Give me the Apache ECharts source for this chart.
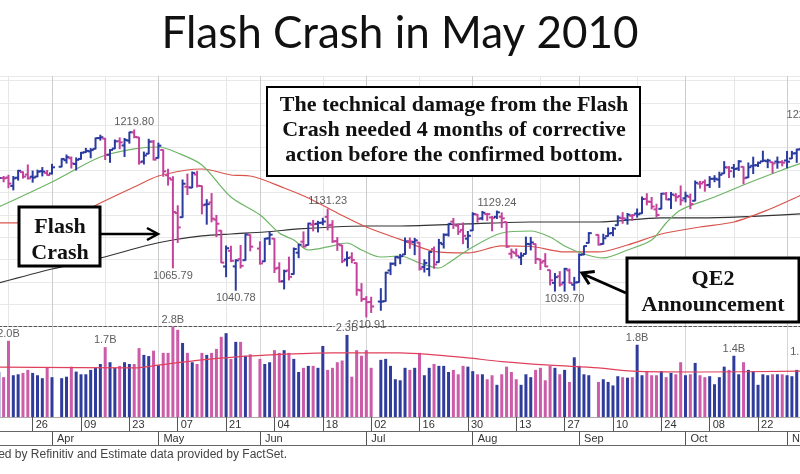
<!DOCTYPE html>
<html><head><meta charset="utf-8">
<script src="https://cdn.jsdelivr.net/npm/echarts@6/dist/echarts.min.js"></script>
<style>html,body{margin:0;padding:0;background:#fff}#c{width:800px;height:474px}</style>
</head><body><div id="c"></div>
<script>
// ---------- DATA ----------
const prevClose = 1159.46; // close before the first visible bar
// [date, open, high, low, close]
const ohlc = [
['2010-03-17',1159.9,1169.8,1159.9,1166.21],['2010-03-18',1166.1,1167.8,1161.9,1165.83],['2010-03-19',1166.7,1169.2,1155.3,1159.90],
['2010-03-22',1157.3,1167.8,1152.9,1165.81],['2010-03-23',1166.5,1174.7,1163.8,1174.17],['2010-03-24',1172.7,1173.0,1166.0,1167.72],
['2010-03-25',1170.0,1180.7,1165.1,1165.73],['2010-03-26',1167.6,1173.9,1161.5,1166.59],['2010-03-29',1167.7,1174.9,1167.7,1173.22],
['2010-03-30',1173.8,1177.8,1168.5,1173.27],['2010-03-31',1171.8,1174.6,1169.3,1169.43],
['2010-04-01',1171.2,1181.4,1170.7,1178.10],['2010-04-05',1178.7,1187.7,1178.7,1187.44],['2010-04-06',1186.0,1191.8,1182.8,1189.44],
['2010-04-07',1188.2,1189.6,1177.3,1182.45],['2010-04-08',1181.8,1188.6,1175.1,1186.44],['2010-04-09',1187.5,1194.7,1187.2,1194.37],
['2010-04-12',1194.9,1199.2,1194.7,1196.48],['2010-04-13',1195.9,1199.0,1188.8,1197.30],['2010-04-14',1198.7,1210.7,1198.7,1210.65],
['2010-04-15',1210.8,1213.9,1208.5,1211.67],['2010-04-16',1210.2,1210.2,1186.8,1192.13],['2010-04-19',1192.1,1197.9,1183.7,1197.52],
['2010-04-20',1199.0,1208.6,1199.0,1207.17],['2010-04-21',1207.2,1211.0,1198.9,1205.94],['2010-04-22',1202.5,1210.3,1190.2,1208.67],
['2010-04-23',1207.9,1217.3,1205.1,1217.28],['2010-04-26',1217.1,1219.8,1211.1,1212.05],['2010-04-27',1211.5,1211.5,1181.6,1183.71],
['2010-04-28',1184.6,1195.1,1181.8,1191.36],['2010-04-29',1193.3,1209.4,1193.3,1206.78],['2010-04-30',1206.8,1208.0,1186.3,1186.69],
['2010-05-03',1188.6,1205.1,1188.6,1202.26],['2010-05-04',1197.5,1197.5,1168.1,1173.60],['2010-05-05',1169.2,1175.9,1158.2,1165.87],
['2010-05-06',1164.4,1167.6,1065.79,1128.15],['2010-05-07',1127.0,1135.1,1094.2,1110.88],['2010-05-10',1122.3,1163.9,1122.3,1159.73],
['2010-05-11',1156.4,1170.5,1147.7,1155.79],['2010-05-12',1155.4,1172.9,1155.4,1171.67],['2010-05-13',1170.0,1173.6,1156.1,1157.44],
['2010-05-14',1157.2,1157.2,1126.1,1135.68],['2010-05-17',1136.5,1141.9,1114.6,1136.94],['2010-05-18',1138.8,1148.7,1117.2,1120.80],
['2010-05-19',1119.6,1124.3,1100.7,1115.05],['2010-05-20',1107.3,1107.3,1071.6,1071.59],['2010-05-21',1067.3,1090.2,1055.9,1087.69],
['2010-05-24',1084.8,1089.9,1072.7,1073.65],['2010-05-25',1067.4,1074.8,1040.78,1074.03],['2010-05-26',1075.5,1090.8,1065.6,1067.95],
['2010-05-27',1074.3,1103.5,1074.3,1103.06],['2010-05-28',1102.6,1102.6,1084.8,1089.41],
['2010-06-01',1087.3,1094.8,1069.9,1070.71],['2010-06-02',1073.0,1098.6,1072.9,1098.38],['2010-06-03',1098.8,1105.7,1091.8,1102.83],
['2010-06-04',1098.4,1098.4,1060.5,1064.88],['2010-06-07',1065.8,1071.4,1049.9,1050.47],['2010-06-08',1050.8,1063.2,1042.2,1062.00],
['2010-06-09',1062.8,1077.7,1052.3,1055.69],['2010-06-10',1058.8,1087.9,1058.8,1086.84],['2010-06-11',1082.7,1092.1,1077.1,1091.60],
['2010-06-14',1095.0,1105.9,1089.0,1089.63],['2010-06-15',1091.2,1115.6,1091.2,1115.23],['2010-06-16',1114.0,1118.7,1107.1,1114.61],
['2010-06-17',1115.0,1117.7,1105.9,1116.04],['2010-06-18',1116.2,1121.1,1113.9,1117.51],['2010-06-21',1122.8,1131.23,1108.2,1113.20],
['2010-06-22',1113.9,1118.5,1094.2,1095.31],['2010-06-23',1095.6,1099.6,1085.3,1092.04],['2010-06-24',1090.9,1090.9,1071.6,1073.69],
['2010-06-25',1075.1,1083.6,1067.9,1076.76],['2010-06-28',1077.5,1082.6,1071.5,1074.57],['2010-06-29',1071.1,1071.1,1035.2,1041.24],
['2010-06-30',1040.6,1048.1,1028.3,1030.71],
['2010-07-01',1031.1,1033.6,1010.91,1027.37],['2010-07-02',1027.6,1032.9,1015.9,1022.58],['2010-07-06',1028.1,1042.5,1018.4,1028.06],
['2010-07-07',1028.5,1060.9,1028.5,1060.27],['2010-07-08',1062.9,1071.3,1058.2,1070.25],['2010-07-09',1070.5,1078.2,1068.1,1077.96],
['2010-07-12',1077.2,1080.8,1070.4,1078.75],['2010-07-13',1080.7,1099.1,1080.7,1095.34],['2010-07-14',1095.6,1099.1,1087.7,1095.17],
['2010-07-15',1094.5,1098.7,1080.5,1096.48],['2010-07-16',1093.9,1093.9,1063.3,1064.88],['2010-07-19',1066.9,1074.7,1061.1,1071.25],
['2010-07-20',1064.5,1083.9,1056.9,1083.48],['2010-07-21',1086.7,1089.0,1065.3,1069.59],['2010-07-22',1072.1,1097.5,1072.1,1093.67],
['2010-07-23',1092.2,1103.7,1087.9,1102.66],['2010-07-26',1102.9,1115.0,1101.3,1115.01],['2010-07-27',1117.4,1121.0,1109.8,1113.84],
['2010-07-28',1112.8,1114.7,1103.1,1106.13],['2010-07-29',1108.1,1115.9,1092.8,1101.53],['2010-07-30',1098.4,1106.4,1088.0,1101.60],
['2010-08-02',1107.5,1127.3,1107.5,1125.86],['2010-08-03',1125.3,1125.4,1116.8,1120.46],['2010-08-04',1121.1,1128.8,1119.5,1127.24],
['2010-08-05',1125.8,1126.6,1118.9,1125.81],['2010-08-06',1122.1,1123.1,1107.2,1121.64],['2010-08-09',1122.8,1129.24,1120.9,1127.79],
['2010-08-10',1122.9,1127.2,1111.0,1121.06],['2010-08-11',1116.9,1116.9,1088.6,1089.47],['2010-08-12',1081.5,1086.7,1076.7,1083.61],
['2010-08-13',1082.2,1086.8,1079.0,1079.25],['2010-08-16',1077.5,1082.6,1069.5,1079.38],['2010-08-17',1081.2,1100.1,1081.2,1092.54],
['2010-08-18',1092.1,1099.8,1085.8,1094.16],['2010-08-19',1092.4,1092.4,1070.7,1075.63],['2010-08-20',1075.2,1075.2,1063.9,1071.69],
['2010-08-23',1073.4,1081.6,1067.1,1067.36],['2010-08-24',1063.2,1063.2,1046.7,1051.87],['2010-08-25',1049.0,1059.4,1039.8,1055.33],
['2010-08-26',1056.3,1061.5,1045.4,1047.22],['2010-08-27',1049.3,1065.2,1039.70,1064.59],['2010-08-30',1062.9,1064.4,1048.8,1048.92],
['2010-08-31',1046.9,1055.1,1040.9,1049.33],
['2010-09-01',1049.7,1081.3,1049.7,1080.29],['2010-09-02',1080.7,1090.1,1080.4,1090.10],['2010-09-03',1093.6,1105.1,1093.6,1104.51],
['2010-09-07',1102.6,1102.6,1091.2,1091.84],['2010-09-08',1092.4,1103.3,1092.4,1098.87],['2010-09-09',1101.2,1110.3,1101.2,1104.18],
['2010-09-10',1104.6,1110.9,1101.7,1109.55],['2010-09-13',1113.4,1123.9,1113.4,1121.90],['2010-09-14',1121.2,1127.4,1115.6,1121.10],
['2010-09-15',1119.4,1126.5,1114.6,1125.07],['2010-09-16',1123.9,1125.4,1118.9,1124.66],['2010-09-17',1126.4,1131.5,1122.4,1125.59],
['2010-09-20',1126.6,1144.9,1126.6,1142.71],['2010-09-21',1142.8,1148.6,1136.2,1139.78],['2010-09-22',1139.5,1144.4,1131.6,1134.28],
['2010-09-23',1131.1,1136.8,1122.8,1124.83],['2010-09-24',1131.7,1148.9,1131.7,1148.67],['2010-09-27',1148.6,1149.9,1142.0,1142.16],
['2010-09-28',1142.3,1150.0,1132.1,1147.70],['2010-09-29',1146.8,1148.6,1140.3,1144.73],['2010-09-30',1146.0,1157.2,1136.1,1141.20],
['2010-10-01',1143.5,1150.3,1139.4,1146.24],['2010-10-04',1145.0,1148.2,1131.9,1137.03],['2010-10-05',1140.7,1162.8,1140.7,1160.75],
['2010-10-06',1159.8,1162.3,1154.9,1159.97],['2010-10-07',1161.6,1163.9,1151.4,1158.06],['2010-10-08',1158.4,1167.7,1155.6,1165.15],
['2010-10-11',1165.3,1168.7,1162.0,1165.32],['2010-10-12',1164.3,1172.6,1155.7,1169.77],['2010-10-13',1171.3,1184.4,1171.3,1178.10],
['2010-10-14',1177.8,1178.9,1166.7,1173.81],['2010-10-15',1177.5,1181.2,1167.1,1176.19],['2010-10-18',1176.8,1185.5,1174.6,1184.71],
['2010-10-19',1178.6,1178.6,1159.7,1165.90],['2010-10-20',1166.7,1182.9,1166.7,1178.17],['2010-10-21',1179.8,1189.4,1171.2,1180.26],
['2010-10-22',1180.5,1183.9,1179.0,1183.08],['2010-10-25',1184.7,1196.1,1184.7,1185.62],['2010-10-26',1184.9,1187.1,1177.7,1185.64],
['2010-10-27',1183.8,1183.8,1171.7,1182.45],['2010-10-28',1184.5,1189.5,1177.1,1183.78],['2010-10-29',1183.9,1185.5,1179.7,1183.26],
['2010-11-01',1185.7,1195.8,1177.7,1184.38],['2010-11-02',1187.9,1195.9,1187.9,1193.57],['2010-11-03',1193.8,1198.3,1183.6,1197.96],
['2010-11-04',1198.3,1221.3,1198.3,1221.06],['2010-11-05',1221.2,1227.08,1220.3,1225.85]
];
// daily volume (billions of shares), same order as ohlc
const volume = [
0.95,0.84,2.0,0.88,0.90,0.93,1.0,0.93,0.88,0.82,1.05,
0.84,0.82,0.85,1.08,0.96,0.90,0.90,1.0,1.05,1.15,1.72,1.2,1.05,1.1,1.2,1.15,1.15,1.68,1.43,1.39,1.58,
1.12,1.5,1.5,2.8,2.6,1.9,1.5,1.2,1.15,1.5,1.43,1.5,1.65,2.2,2.4,1.3,1.95,1.95,1.4,1.45,
1.3,1.15,1.2,1.6,1.5,1.6,1.5,1.3,0.95,1.05,1.1,1.1,1.05,1.77,1.0,1.05,1.2,1.25,2.3,0.85,1.6,1.4,
1.6,1.05,1.27,1.3,1.1,0.8,0.78,1.05,1.0,1.05,1.5,0.88,1.05,1.15,1.1,1.1,0.95,1.0,0.9,1.1,1.08,
0.97,0.9,0.9,0.8,0.88,0.7,0.9,1.08,0.95,0.8,0.7,0.9,0.84,1.0,1.05,0.78,1.1,1.05,0.9,1.0,0.75,1.35,
1.1,0.9,0.88,0.75,0.8,0.75,0.69,0.86,0.84,0.83,0.84,1.82,0.88,0.97,0.88,0.88,0.97,0.84,0.93,0.9,1.2,
0.88,0.9,1.18,0.88,0.84,0.86,0.71,0.84,1.08,1.0,1.4,0.9,1.2,1.0,0.97,0.7,0.9,0.88,0.9,0.9,0.9,
0.88,0.86,1.0,1.3,1.0
];
// moving averages [date, value]
const ma20 = [['2010-03-17',1133.8],['2010-04-01',1161.7],['2010-04-15',1189.6],['2010-04-26',1198.6],['2010-05-03',1200.8],
['2010-05-07',1194.1],['2010-05-14',1180.7],['2010-05-24',1144.9],['2010-06-01',1125.0],['2010-06-07',1104.7],['2010-06-10',1096.9],
['2010-06-15',1085.7],['2010-06-21',1089.1],['2010-06-25',1093.5],['2010-06-30',1085.7],['2010-07-06',1077.9],['2010-07-12',1079.0],
['2010-07-16',1071.2],['2010-07-22',1065.6],['2010-07-26',1071.2],['2010-07-30',1085.7],['2010-08-10',1104.7],['2010-08-18',1106.9],
['2010-08-24',1100.2],['2010-08-27',1090.2],['2010-09-02',1081.2],['2010-09-08',1076.8],['2010-09-15',1085.7],['2010-09-22',1096.9],
['2010-09-27',1115.9],['2010-09-30',1130.4],['2010-10-11',1144.9],['2010-10-20',1160.6],['2010-10-29',1175.1],['2010-11-04',1182.9],['2010-11-05',1185.0]];
const ma50 = [['2010-03-17',1115.9],['2010-04-01',1117.0],['2010-04-09',1127.1],['2010-04-15',1138.2],['2010-04-26',1156.1],
['2010-05-03',1168.4],['2010-05-11',1175.1],['2010-05-14',1176.2],['2010-05-24',1169.5],['2010-05-28',1168.4],['2010-06-08',1155.0],
['2010-06-15',1143.8],['2010-06-23',1127.1],['2010-07-01',1111.4],['2010-07-12',1097.5],['2010-07-21',1084.2],['2010-07-30',1082.4],
['2010-08-10',1090.2],['2010-08-18',1089.6],['2010-08-27',1083.5],['2010-09-07',1083.5],['2010-09-15',1091.3],['2010-09-24',1103.6],
['2010-10-06',1111.4],['2010-10-15',1117.0],['2010-10-26',1130.4],['2010-11-04',1147.2],['2010-11-05',1150.0]];
const ma200 = [['2010-03-17',1048.9],['2010-04-01',1064.5],['2010-04-15',1076.8],['2010-04-29',1091.3],['2010-05-06',1096.9],
['2010-05-14',1101.4],['2010-05-24',1103.6],['2010-06-02',1105.8],['2010-06-11',1109.2],['2010-06-22',1111.4],['2010-07-01',1112.5],
['2010-07-12',1112.5],['2010-07-30',1114.8],['2010-08-18',1117.0],['2010-09-07',1117.0],['2010-09-24',1121.5],['2010-10-06',1121.5],
['2010-11-05',1126.5]];
const volMA = [['2010-03-17',1.07],['2010-04-26',1.05],['2010-05-03',1.12],['2010-05-07',1.19],['2010-05-14',1.27],['2010-05-24',1.35],
['2010-06-03',1.43],['2010-06-22',1.50],['2010-07-12',1.50],['2010-07-21',1.43],['2010-07-30',1.33],['2010-08-10',1.22],
['2010-08-24',1.12],['2010-09-07',1.05],['2010-09-16',0.97],['2010-10-06',0.95],['2010-11-05',0.97]];
// annotated extremes [date, value, side]
const priceLabels = [['2010-04-26',1219.80,'top'],['2010-05-06',1065.79,'bottom'],['2010-05-25',1040.78,'bottom'],
['2010-06-21',1131.23,'top'],['2010-07-01',1010.91,'bottom'],['2010-08-09',1129.24,'top'],['2010-08-27',1039.70,'bottom'],
['2010-11-05',1227.08,'top']];
const volLabelDates = ['2010-03-19','2010-04-16','2010-05-06','2010-06-25','2010-09-17','2010-10-15','2010-11-04'];
// axis tick dates
const weekTicks = ['2010-03-26','2010-04-09','2010-04-23','2010-05-07','2010-05-21','2010-06-04','2010-06-18','2010-07-02',
'2010-07-16','2010-07-30','2010-08-13','2010-08-27','2010-09-10','2010-09-24','2010-10-08','2010-10-22','2010-11-05'];
const monthTicks = ['2010-04-01','2010-05-03','2010-06-01','2010-07-01','2010-08-02','2010-09-01','2010-10-01','2010-11-01'];
const monthNames = ['Apr','May','Jun','Jul','Aug','Sep','Oct','Nov'];
const midTicks = ['2010-03-19','2010-04-16','2010-05-21','2010-06-18','2010-07-16','2010-08-20','2010-09-17','2010-10-15'];

// ---------- BUILD ----------
const categories = [];
for (let d = new Date(Date.UTC(2010,2,17)); d <= new Date(Date.UTC(2010,10,5)); d.setUTCDate(d.getUTCDate()+1)) {
  const wd = d.getUTCDay(); if (wd === 0 || wd === 6) continue;
  categories.push(d.toISOString().slice(0,10));
}
const dir = ohlc.map((r,k) => r[4] >= (k ? ohlc[k-1][4] : prevClose) ? 1 : -1);
const priceData = ohlc.map((r,k) => [r[0], r[1], r[2], r[3], r[4], dir[k]]);
const volData = ohlc.map((r,k) => [r[0], volume[k], dir[k]]);
const weekSet = new Set(weekTicks), monthSet = new Set(monthTicks), midSet = new Set(midTicks);
const VOL_MIN = 0.325, VOL_MAX = 2.8;
const BLUE = '#2a3a9e', MAG = '#c3439b', VBLUE = '#2f3c9c', VPINK = '#cc5ba8';
const FONT = 'Liberation Sans, Arial, sans-serif';

function renderOHLC(params, api) {
  const i = api.value(0);
  const o = api.coord([i, api.value(1)]), h = api.coord([i, api.value(2)]);
  const l = api.coord([i, api.value(3)]), c = api.coord([i, api.value(4)]);
  const col = api.value(5) > 0 ? BLUE : MAG;
  const x = h[0], st = {stroke: col, lineWidth: 2};
  return {type:'group', children:[
    {type:'line', shape:{x1:x, y1:h[1]-0.5, x2:x, y2:l[1]+0.5}, style:st},
    {type:'line', shape:{x1:x-3, y1:o[1], x2:x, y2:o[1]}, style:st},
    {type:'line', shape:{x1:x, y1:c[1], x2:x+3, y2:c[1]}, style:st}
  ]};
}
function renderVol(params, api) {
  const i = api.value(0);
  const t = api.coord([i, api.value(1)]), b = api.coord([i, VOL_MIN]);
  return {type:'rect', shape:{x:t[0]-1.5, y:t[1], width:3, height:b[1]-t[1]},
          style:{fill: api.value(2) > 0 ? VBLUE : VPINK}};
}
const hidden = {axisLine:{show:false}, axisTick:{show:false}, axisLabel:{show:false}};
const gridL = -1.2, gridR = -6.4;

const option = {
  animation: false,
  backgroundColor: '#fff',
  grid: [
    {left: gridL, right: gridR, top: 76.1, height: 250.6, containLabel:false, outerBoundsMode:'none'},
    {left: gridL, right: gridR, top: 326.7, height: 90.3, containLabel:false, outerBoundsMode:'none'}
  ],
  xAxis: [
    {gridIndex:0, type:'category', data:categories, boundaryGap:false, position:'bottom',
     axisLine:{show:true, lineStyle:{color:'#555', type:[3,2]}}, axisTick:{show:false}, axisLabel:{show:false},
     splitLine:{show:true, interval:(i,v)=>monthSet.has(v), lineStyle:{color:'#cccccc'}}},
    {gridIndex:0, type:'category', data:categories, boundaryGap:false, position:'top', ...hidden,
     splitLine:{show:true, interval:(i,v)=>midSet.has(v), lineStyle:{color:'#e6e6e6'}}},
    {gridIndex:1, type:'category', data:categories, boundaryGap:false, position:'bottom',
     axisLine:{show:true, lineStyle:{color:'#aaa'}},
     axisTick:{show:true, interval:(i,v)=>weekSet.has(v), length:14, lineStyle:{color:'#555'}},
     axisLabel:{show:true, interval:(i,v)=>weekSet.has(v), formatter:v=>v.slice(8), align:'left',
                padding:[0,0,0,3], margin:2, fontSize:11, color:'#333', fontFamily:FONT},
     splitLine:{show:true, interval:(i,v)=>monthSet.has(v), lineStyle:{color:'#d6d6d6'}}},
    {gridIndex:1, type:'category', data:categories, boundaryGap:false, position:'bottom', offset:14,
     axisLine:{show:true, lineStyle:{color:'#666'}},
     axisTick:{show:true, interval:(i,v)=>monthSet.has(v), length:14, lineStyle:{color:'#555'}},
     axisLabel:{show:true, interval:(i,v)=>monthSet.has(v), formatter:v=>monthNames[monthTicks.indexOf(v)],
                align:'left', padding:[0,0,0,5], margin:2, fontSize:11, color:'#333', fontFamily:FONT}},
    {gridIndex:1, type:'category', data:categories, boundaryGap:false, position:'bottom', offset:28,
     axisLine:{show:true, lineStyle:{color:'#666'}}, axisTick:{show:false}, axisLabel:{show:false}}
  ],
  yAxis: [
    {gridIndex:0, type:'value', min:1000, max:1280, interval:25, ...hidden,
     splitLine:{show:true, lineStyle:{color:'#e9e9e9'}}},
    {gridIndex:1, type:'log', min:VOL_MIN, max:VOL_MAX, ...hidden, splitLine:{show:false}}
  ],
  series: [
    {type:'line', xAxisIndex:0, yAxisIndex:0, data:ma200, smooth:0.3, showSymbol:false, z:1,
     lineStyle:{color:'#333', width:1.2}},
    {type:'line', xAxisIndex:0, yAxisIndex:0, data:ma50, smooth:0.3, showSymbol:false, z:1,
     lineStyle:{color:'#d9544c', width:1.2}},
    {type:'line', xAxisIndex:0, yAxisIndex:0, data:ma20, smooth:0.3, showSymbol:false, z:1,
     lineStyle:{color:'#6db565', width:1.2}},
    {type:'custom', xAxisIndex:0, yAxisIndex:0, data:priceData, renderItem:renderOHLC, z:3,
     dimensions:['date','open','high','low','close','dir'], encode:{x:0, y:[1,2,3,4]}},
    {type:'scatter', xAxisIndex:0, yAxisIndex:0, symbolSize:1, itemStyle:{color:'rgba(0,0,0,0)'}, z:5,
     data: priceLabels.map(p => ({value:[p[0], p[1]], label:{position:p[2]}})),
     label:{show:true, formatter:p=>p.value[1].toFixed(2), fontSize:11, color:'#333', distance:2, fontFamily:FONT}},
    {type:'custom', xAxisIndex:2, yAxisIndex:1, data:volData, renderItem:renderVol, z:3,
     dimensions:['date','vol','dir'], encode:{x:0, y:1}},
    {type:'line', xAxisIndex:2, yAxisIndex:1, data:volMA, smooth:0.3, showSymbol:false, z:4,
     lineStyle:{color:'#e0405c', width:1.2}},
    {type:'scatter', xAxisIndex:2, yAxisIndex:1, symbolSize:1, itemStyle:{color:'rgba(0,0,0,0)'}, z:6,
     data: volLabelDates.map(d => [d, volume[ohlc.findIndex(r => r[0] === d)]]),
     label:{show:true, position:'top', formatter:p=>p.value[1].toFixed(1)+'B', fontSize:11, color:'#333',
            distance:1, backgroundColor:'#fff', padding:[0,1,0,1], fontFamily:FONT}}
  ],
  graphic: [
    {type:'text', x:400, y:34, z:100, style:{text:'Flash Crash in May 2010', font:'44px Lato', fill:'#111',
      align:'center', verticalAlign:'middle', textAlign:'center', textVerticalAlign:'middle'}},
    {type:'text', x:287, y:455, z:100, style:{text:'Price data provided by Refinitiv and Estimate data provided by FactSet.',
      font:'12px Liberation Sans', fill:'#444', align:'right', verticalAlign:'middle', textAlign:'right', textVerticalAlign:'middle'}},
    // Flash Crash box + arrow
    {type:'rect', z:100, shape:{x:19, y:207, width:81, height:59}, style:{fill:'#fff', stroke:'#000', lineWidth:3}},
    {type:'text', x:60, y:240, z:101, style:{text:'Flash\nCrash', font:'bold 22px Liberation Serif', lineHeight:26, fill:'#111',
      align:'center', verticalAlign:'middle', textAlign:'center', textVerticalAlign:'middle'}},
    {type:'polyline', z:100, shape:{points:[[101,234],[157,234]]}, style:{stroke:'#000', lineWidth:2.5, fill:null}},
    {type:'polyline', z:100, shape:{points:[[147,228],[158,234],[147,240]]}, style:{stroke:'#000', lineWidth:2.5, fill:null}},
    // comment box
    {type:'rect', z:100, shape:{x:267, y:87, width:373, height:89}, style:{fill:'#fff', stroke:'#000', lineWidth:2}},
    {type:'text', x:454, y:130, z:101, style:{text:'The technical damage from the Flash\nCrash needed 4 months of corrective\naction before the confirmed bottom.',
      font:'bold 22px Liberation Serif', lineHeight:25, fill:'#111',
      align:'center', verticalAlign:'middle', textAlign:'center', textVerticalAlign:'middle'}},
    // QE2 box + arrow
    {type:'rect', z:100, shape:{x:627, y:258, width:172, height:64}, style:{fill:'#fff', stroke:'#000', lineWidth:3}},
    {type:'text', x:713, y:292, z:101, style:{text:'QE2\nAnnouncement', font:'bold 22px Liberation Serif', lineHeight:26, fill:'#111',
      align:'center', verticalAlign:'middle', textAlign:'center', textVerticalAlign:'middle'}},
    {type:'polyline', z:100, shape:{points:[[626,293],[583,274]]}, style:{stroke:'#000', lineWidth:3, fill:null}},
    {type:'polyline', z:100, shape:{points:[[594.8,271.4],[582,273],[589.2,284.2]]}, style:{stroke:'#000', lineWidth:3, fill:null}}
  ]
};
echarts.init(document.getElementById('c'), null, {renderer:'canvas'}).setOption(option);
</script></body></html>
